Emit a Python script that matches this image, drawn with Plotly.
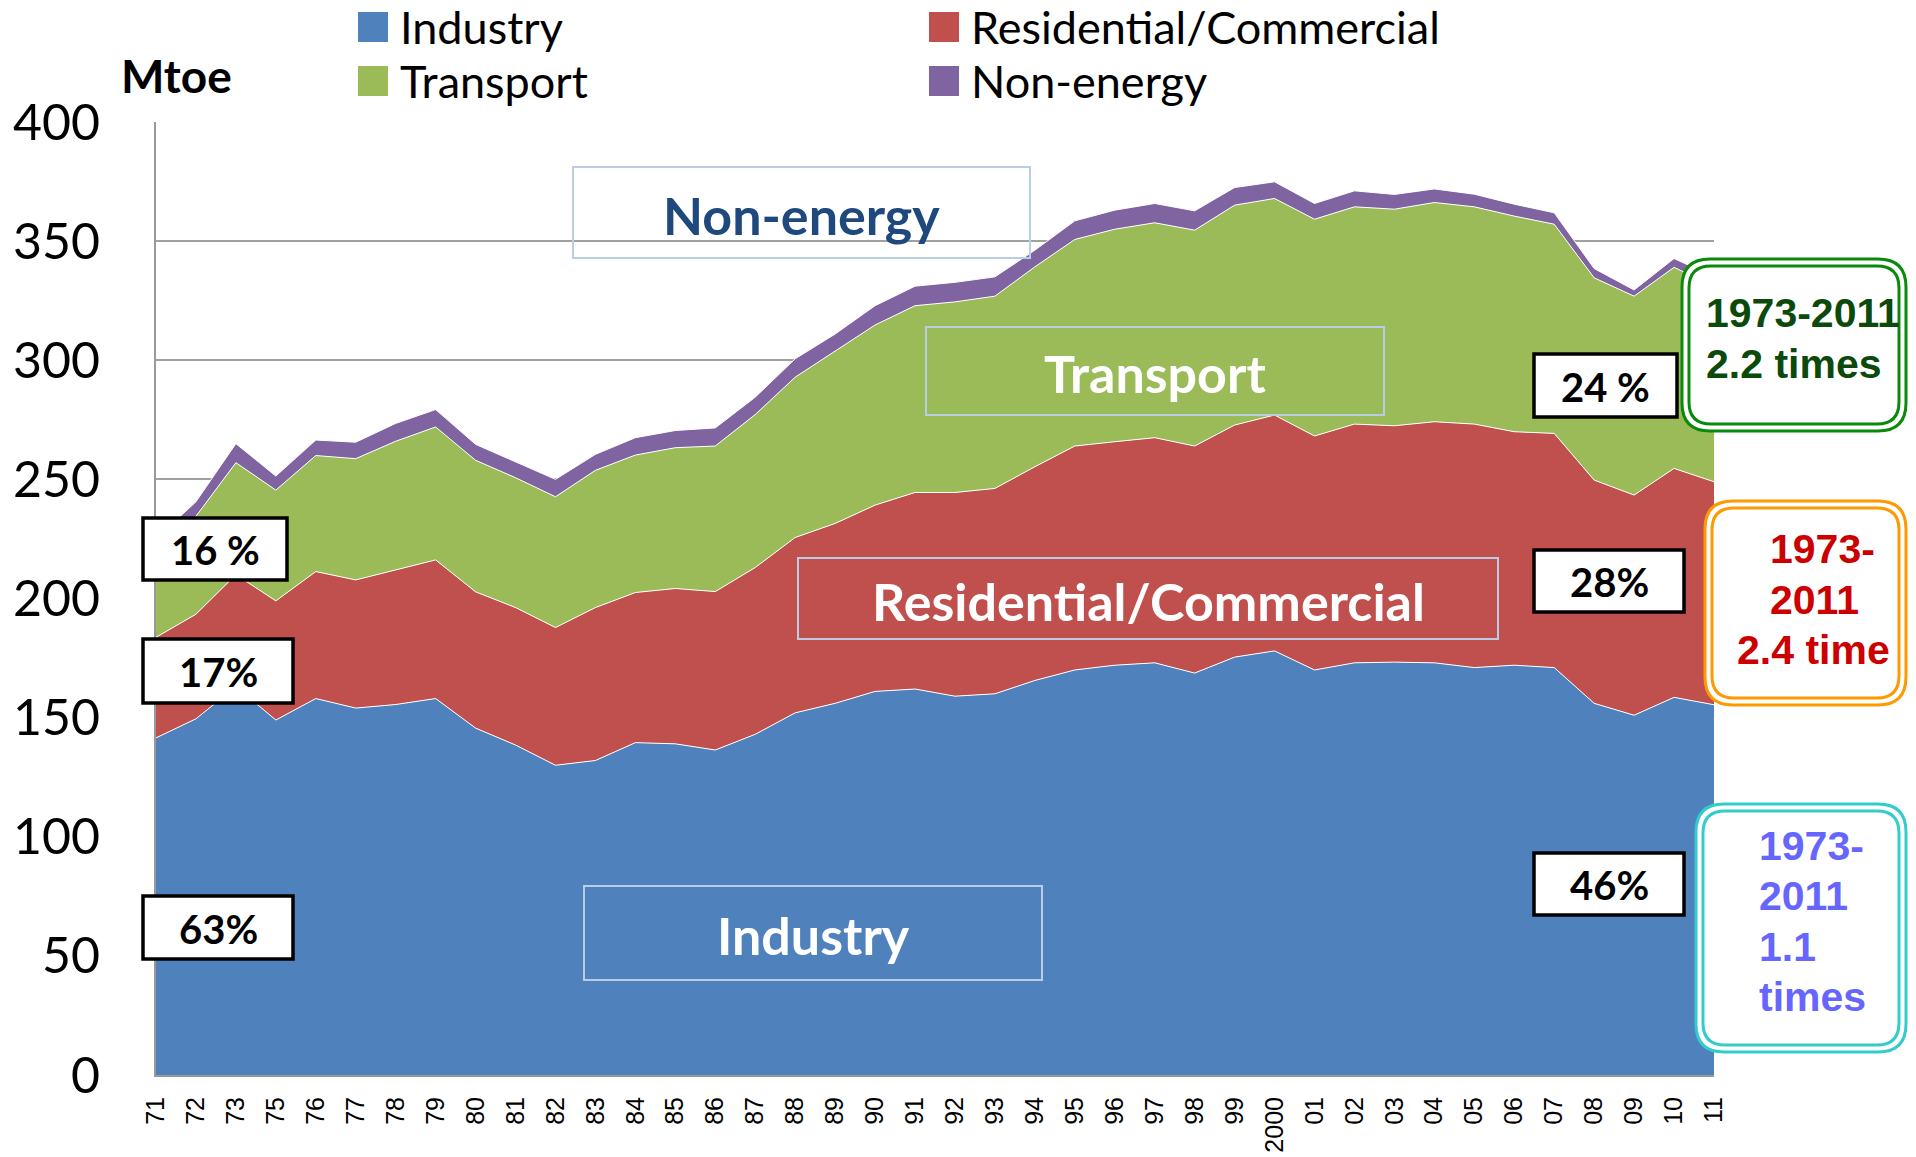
import plotly.graph_objects as go

# ---------------- data (Mtoe) ----------------
year_labels = ["71", "72", "73", "75", "76", "77", "78", "79", "80", "81",
               "82", "83", "84", "85", "86", "87", "88", "89", "90", "91",
               "92", "93", "94", "95", "96", "97", "98", "99", "2000", "01",
               "02", "03", "04", "05", "06", "07", "08", "09", "10", "11"]

industry = [141.5, 149.5, 163.0, 149.0, 158.0, 154.0, 155.5, 158.0, 145.6, 138.5,
            130.0, 132.0, 139.5, 139.0, 136.4, 143.0, 152.0, 156.0, 161.0, 162.0,
            159.0, 160.0, 165.6, 170.0, 172.0, 173.0, 168.7, 175.4, 178.0, 170.0,
            173.0, 173.3, 173.0, 171.0, 172.0, 171.0, 156.0, 151.0, 158.5, 155.4]

residential = [42.2, 43.9, 47.0, 50.0, 53.3, 53.8, 56.5, 58.2, 57.2, 57.7,
               57.8, 64.2, 63.0, 65.2, 66.5, 70.0, 73.6, 75.5, 78.2, 82.5,
               85.5, 86.2, 89.7, 94.0, 93.8, 94.5, 95.3, 97.4, 99.0, 98.2,
               100.2, 99.2, 101.2, 102.2, 98.0, 98.3, 93.7, 92.4, 96.1, 93.6]

transport = [35.3, 41.1, 47.0, 46.5, 48.7, 50.9, 54.0, 55.8, 55.2, 54.5,
             54.9, 57.6, 57.7, 59.1, 61.1, 64.2, 67.3, 72.5, 75.6, 78.4,
             80.0, 80.7, 83.9, 86.7, 89.2, 90.2, 90.6, 92.3, 90.9, 91.0,
             91.2, 90.9, 92.0, 91.2, 90.5, 87.8, 84.9, 83.5, 84.4, 82.0]

non_energy = [6.0, 6.1, 8.0, 5.9, 6.5, 6.9, 7.5, 7.3, 6.7, 6.7,
              7.3, 6.7, 7.3, 7.2, 7.6, 7.3, 7.7, 7.0, 8.1, 8.2,
              8.2, 8.1, 7.0, 7.8, 8.0, 8.1, 8.1, 7.4, 7.0, 6.6,
              6.7, 6.2, 5.7, 5.3, 5.0, 4.8, 3.9, 2.6, 3.7, 4.0]

series_names = ["Industry", "Residential/Commercial", "Transport", "Non-energy"]
series_colors = ["#4F81BD", "#C0504D", "#9BBB59", "#8064A2"]
y_ticks = [0, 50, 100, 150, 200, 250, 300, 350, 400]

share_left = ["16 %", "17%", "63%"]
share_right = ["24 %", "28%", "46%"]

# ---------------- geometry (screen pixels) ----------------
W, H = 1916, 1157
L, R, T, B = 156, 1714, 122, 1075   # plot area


def PX(x):
    return (x - L) / (R - L)


def PY(y):
    return (B - y) / (B - T)


x_idx = list(range(len(year_labels)))

fig = go.Figure()
for name, vals, col in zip(series_names, [industry, residential, transport, non_energy], series_colors):
    fig.add_trace(go.Scatter(
        x=x_idx, y=vals, name=name, mode="lines", stackgroup="one",
        fillcolor=col, line=dict(color="white", width=1),
        showlegend=False, hoverinfo="x+y+name"))

shapes = []
annotations = []

# ---------- manual legend ----------
leg = [("Industry", series_colors[0], 358, 27),
       ("Transport", series_colors[2], 358, 81),
       ("Residential/Commercial", series_colors[1], 929, 27),
       ("Non-energy", series_colors[3], 929, 81)]
for txt, col, sx, cy in leg:
    shapes.append(dict(type="rect", xref="paper", yref="paper",
                       x0=PX(sx), x1=PX(sx + 30), y0=PY(cy - 15), y1=PY(cy + 15),
                       fillcolor=col, line=dict(width=0)))
    annotations.append(dict(xref="paper", yref="paper", x=PX(sx + 40), y=PY(cy),
                            text=txt, showarrow=False, xanchor="left", yanchor="middle",
                            font=dict(family="Lato", size=45, color="black")))

# Mtoe
annotations.append(dict(xref="paper", yref="paper", x=PX(176), y=PY(76), text="<b>Mtoe</b>",
                        showarrow=False, xanchor="center", yanchor="middle",
                        font=dict(family="Lato", size=46, color="black")))

# ---------- sector label boxes ----------
sector_boxes = [("Non-energy", "#1F497D", 573, 167, 1030, 258),
                ("Transport", "white", 926, 327, 1384, 415),
                ("Residential/Commercial", "white", 798, 558, 1498, 639),
                ("Industry", "white", 584, 886, 1042, 980)]
for txt, col, x0, y0, x1, y1 in sector_boxes:
    shapes.append(dict(type="rect", xref="paper", yref="paper", layer="above",
                       x0=PX(x0), x1=PX(x1), y0=PY(y1), y1=PY(y0),
                       line=dict(color="#B9CDE5", width=2), fillcolor="rgba(0,0,0,0)"))
    annotations.append(dict(xref="paper", yref="paper", x=PX((x0 + x1) / 2), y=PY((y0 + y1) / 2 + 2),
                            text="<b>%s</b>" % txt, showarrow=False, xanchor="center", yanchor="middle",
                            font=dict(family="Lato", size=52, color=col)))

# ---------- share boxes ----------
share_pos_left = [(143, 518, 287, 580), (143, 639, 293, 703), (143, 896, 293, 959)]
share_pos_right = [(1534, 354, 1677, 417), (1534, 550, 1684, 612), (1534, 853, 1684, 915)]
for txt, (x0, y0, x1, y1) in list(zip(share_left, share_pos_left)) + list(zip(share_right, share_pos_right)):
    shapes.append(dict(type="rect", xref="paper", yref="paper", layer="above",
                       x0=PX(x0), x1=PX(x1), y0=PY(y1), y1=PY(y0),
                       line=dict(color="black", width=3.5), fillcolor="white"))
    annotations.append(dict(xref="paper", yref="paper", x=PX((x0 + x1) / 2), y=PY((y0 + y1) / 2 + 1),
                            text="<b>%s</b>" % txt, showarrow=False, xanchor="center", yanchor="middle",
                            font=dict(family="Lato", size=40, color="black")))


# ---------- rounded double-border boxes ----------
def rrect_path(x0, y0, x1, y1, r):
    pts = []

    def p(x, y):
        return "%.5f,%.5f" % (PX(x), PY(y))
    pts.append("M" + p(x0 + r, y0))
    pts.append("L" + p(x1 - r, y0))
    pts.append("Q" + p(x1, y0) + " " + p(x1, y0 + r))
    pts.append("L" + p(x1, y1 - r))
    pts.append("Q" + p(x1, y1) + " " + p(x1 - r, y1))
    pts.append("L" + p(x0 + r, y1))
    pts.append("Q" + p(x0, y1) + " " + p(x0, y1 - r))
    pts.append("L" + p(x0, y0 + r))
    pts.append("Q" + p(x0, y0) + " " + p(x0 + r, y0))
    return " ".join(pts) + " Z"


round_boxes = [("#0A8A0A", 1682, 259, 1906, 431),
               ("#FF9900", 1705, 501, 1906, 705),
               ("#33CCCC", 1696, 804, 1906, 1052)]
for col, x0, y0, x1, y1 in round_boxes:
    shapes.append(dict(type="path", xref="paper", yref="paper", layer="above",
                       path=rrect_path(x0, y0, x1, y1, 28),
                       line=dict(color=col, width=3), fillcolor="white"))
    shapes.append(dict(type="path", xref="paper", yref="paper", layer="above",
                       path=rrect_path(x0 + 7, y0 + 7, x1 - 7, y1 - 7, 22),
                       line=dict(color=col, width=3), fillcolor="rgba(0,0,0,0)"))

ratio_texts = [
    ("#0B4A0B", [("1973-2011", 1704, 313), ("2.2 times", 1704, 364)]),
    ("#CC0000", [("1973-", 1768, 549), ("2011", 1768, 600), ("2.4 time", 1735, 650)]),
    ("#6666FF", [("1973-", 1757, 846), ("2011", 1757, 896), ("1.1", 1757, 947), ("times", 1757, 997)]),
]
for col, lines in ratio_texts:
    for txt, x, y in lines:
        annotations.append(dict(xref="paper", yref="paper", x=PX(x), y=PY(y),
                                text="<b>%s</b>" % txt, showarrow=False, xanchor="left", yanchor="middle",
                                font=dict(family="Liberation Sans", size=41, color=col)))

fig.update_layout(
    width=W, height=H, autosize=False,
    margin=dict(l=L, r=W - R, t=T, b=H - B, pad=0, autoexpand=False),
    paper_bgcolor="white", plot_bgcolor="white",
    shapes=shapes, annotations=annotations,
    xaxis=dict(range=[0, len(year_labels) - 1], tickmode="array", tickvals=x_idx,
               ticktext=year_labels, tickangle=-90, showgrid=False,
               showline=True, linecolor="#999999", linewidth=2, ticks="",
               ticklabelstandoff=10, automargin=False,
               tickfont=dict(family="Liberation Sans", size=25, color="black"),
               zeroline=False, fixedrange=True),
    yaxis=dict(range=[0, 400], tickmode="array", tickvals=y_ticks,
               showgrid=True, gridcolor="#A0A0A0", gridwidth=1.5,
               showline=True, linecolor="#999999", linewidth=2, ticks="",
               ticklabelstandoff=44, automargin=False,
               tickfont=dict(family="Lato", size=50, color="black"),
               zeroline=False, fixedrange=True),
    hovermode="x unified",
)

pin_page = (
    "document.documentElement.style.margin='0';"
    "document.documentElement.style.overflow='hidden';"
    "document.body.style.margin='0';"
    "document.body.style.overflow='hidden';"
    "var g=document.getElementById('{plot_id}');"
    "g.style.position='fixed';g.style.left='0px';g.style.top='0px';"
)
fig.write_html("out.html", config={"displayModeBar": False, "responsive": False},
               post_script=pin_page)
